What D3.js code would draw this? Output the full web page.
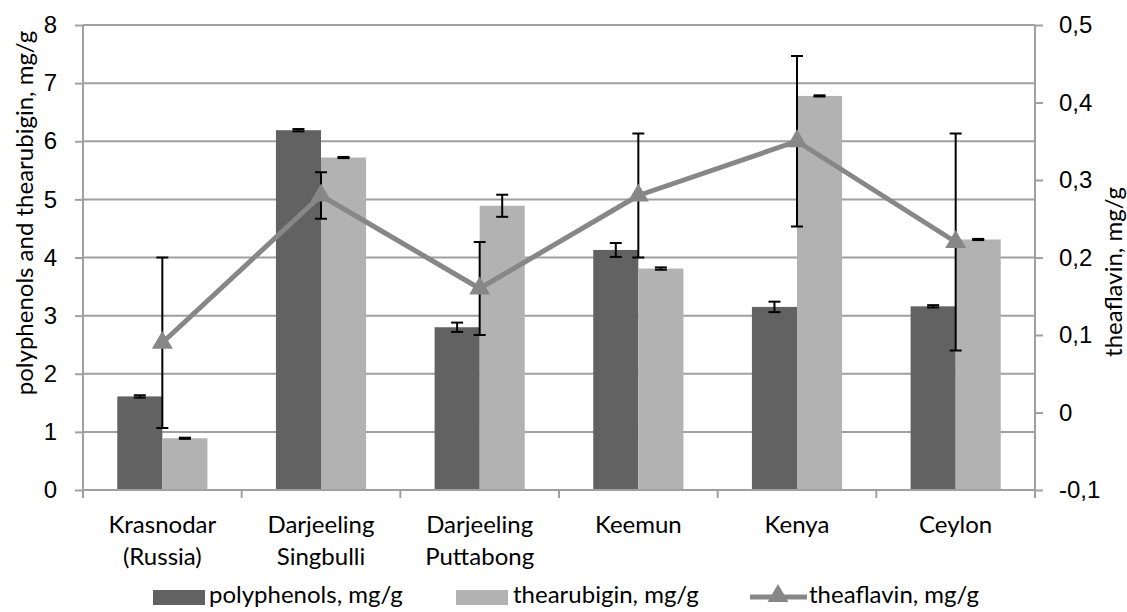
<!DOCTYPE html>
<html>
<head>
<meta charset="utf-8">
<script src="https://cdn.jsdelivr.net/npm/d3@7"></script>
<style>
  html, body { margin: 0; padding: 0; background: #fff; }
  svg { display: block; font-family: Lato, "Open Sans", sans-serif; }
</style>
</head>
<body>
<svg id="chart" width="1127" height="612"></svg>
<script>
// Tea samples
const categories = [
  ["Krasnodar", "(Russia)"],
  ["Darjeeling", "Singbulli"],
  ["Darjeeling", "Puttabong"],
  ["Keemun"],
  ["Kenya"],
  ["Ceylon"]
];
const polyphenols    = [1.61, 6.19, 2.80, 4.13, 3.15, 3.16];
const polyphenolsErr = [0.02, 0.02, 0.08, 0.12, 0.09, 0.02];
const thearubigin    = [0.89, 5.72, 4.89, 3.81, 6.78, 4.31];
const thearubiginErr = [0.01, 0.01, 0.19, 0.02, 0.01, 0.01];
const theaflavin     = [0.09, 0.28, 0.16, 0.28, 0.35, 0.22];
const theaflavinErr  = [0.11, 0.03, 0.06, 0.08, 0.11, 0.14];
const leftTicks  = [0, 1, 2, 3, 4, 5, 6, 7, 8];
const rightTicks = [-0.1, 0, 0.1, 0.2, 0.3, 0.4, 0.5];
const seriesNames = ["polyphenols, mg/g", "thearubigin, mg/g", "theaflavin, mg/g"];

const svg = d3.select("#chart");
const m = { left: 83, right: 1035, top: 25, bottom: 490 };
const C1 = "#626262", C2 = "#b2b2b2", CL = "#878787", GRID = "#a0a0a0";
const FS = 24;

const x = d3.scaleBand().domain(d3.range(categories.length)).range([m.left, m.right]);
const inner = d3.scaleBand().domain([0, 1]).range([0, x.bandwidth()]).paddingInner(0).paddingOuter(0.76);
const yL = d3.scaleLinear().domain([0, 8]).range([m.bottom, m.top]);
const yR = d3.scaleLinear().domain([-0.1, 0.5]).range([m.bottom, m.top]);

// gridlines + left axis
svg.append("g").selectAll("line").data(leftTicks.filter(d => d > 0)).join("line")
  .attr("x1", m.left).attr("x2", m.right)
  .attr("y1", d => yL(d)).attr("y2", d => yL(d))
  .attr("stroke", GRID).attr("stroke-width", 2);
const gL = svg.append("g").attr("transform", `translate(${m.left},0)`)
  .call(d3.axisLeft(yL).tickValues(leftTicks).tickSize(8).tickFormat(d3.format("d")));
gL.select(".domain").attr("stroke", GRID).attr("stroke-width", 2).attr("d", `M0,${m.top}V${m.bottom}`);
gL.selectAll(".tick line").attr("stroke", GRID).attr("stroke-width", 2);
gL.selectAll(".tick text").attr("font-size", FS).attr("fill", "#000").attr("x", -26);

// right axis
const gR = svg.append("g").attr("transform", `translate(${m.right},0)`)
  .call(d3.axisRight(yR).tickValues(rightTicks).tickSize(8)
    .tickFormat(d => Math.abs(d) < 1e-9 ? "0" : d.toFixed(1).replace(".", ",")));
gR.select(".domain").attr("stroke", GRID).attr("stroke-width", 2).attr("d", `M0,${m.top}V${m.bottom}`);
gR.selectAll(".tick line").attr("stroke", GRID).attr("stroke-width", 2);
gR.selectAll(".tick text").attr("font-size", FS).attr("fill", "#000").attr("x", 24).attr("text-anchor", "start");

// bars
const bars = svg.append("g");
bars.selectAll(".p").data(polyphenols).join("rect")
  .attr("x", (d, i) => x(i) + inner(0)).attr("width", inner.bandwidth())
  .attr("y", d => yL(d)).attr("height", d => yL(0) - yL(d)).attr("fill", C1);
bars.selectAll(".t").data(thearubigin).join("rect")
  .attr("x", (d, i) => x(i) + inner(1)).attr("width", inner.bandwidth())
  .attr("y", d => yL(d)).attr("height", d => yL(0) - yL(d)).attr("fill", C2);

// bottom axis
const gX = svg.append("g").attr("transform", `translate(0,${m.bottom})`);
gX.append("line").attr("x1", m.left).attr("x2", m.right).attr("stroke", GRID).attr("stroke-width", 2);
gX.selectAll(".tk").data(d3.range(categories.length + 1)).join("line")
  .attr("x1", i => m.left + i * x.step()).attr("x2", i => m.left + i * x.step())
  .attr("y1", 0).attr("y2", 8).attr("stroke", GRID).attr("stroke-width", 2);
const labels = gX.selectAll(".lab").data(categories).join("text")
  .attr("text-anchor", "middle").attr("font-size", FS).attr("fill", "#000");
labels.each(function (lines, i) {
  d3.select(this).selectAll("tspan").data(lines).join("tspan")
    .attr("x", x(i) + x.bandwidth() / 2)
    .attr("y", (d, j) => 43 + j * 32)
    .text(d => d);
});

// error bars
function errBars(vals, errs, cx, scale, cap) {
  const g = svg.append("g").attr("stroke", "#000").attr("stroke-width", 2);
  vals.forEach((v, i) => {
    const xc = cx(i), y1 = scale(v - errs[i]), y2 = scale(v + errs[i]);
    g.append("line").attr("x1", xc).attr("x2", xc).attr("y1", y1).attr("y2", y2);
    g.append("line").attr("x1", xc - cap).attr("x2", xc + cap).attr("y1", y1).attr("y2", y1);
    g.append("line").attr("x1", xc - cap).attr("x2", xc + cap).attr("y1", y2).attr("y2", y2);
  });
}
errBars(polyphenols, polyphenolsErr, i => x(i) + inner(0) + inner.bandwidth() / 2, yL, 6);
errBars(thearubigin, thearubiginErr, i => x(i) + inner(1) + inner.bandwidth() / 2, yL, 6);

// theaflavin line with triangle markers
const cx = i => x(i) + x.bandwidth() / 2;
svg.append("path").datum(theaflavin)
  .attr("d", d3.line().x((d, i) => cx(i)).y(d => yR(d)))
  .attr("fill", "none").attr("stroke", CL).attr("stroke-width", 5).attr("stroke-linejoin", "round");
errBars(theaflavin, theaflavinErr, cx, yR, 6);
const tri = d3.symbol().type(d3.symbolTriangle).size(190);
svg.append("g").selectAll("path").data(theaflavin).join("path")
  .attr("transform", (d, i) => `translate(${cx(i)},${yR(d)})`)
  .attr("d", tri).attr("fill", CL);

// axis titles
svg.append("text").attr("transform", "translate(33,213) rotate(-90)")
  .attr("text-anchor", "middle").attr("font-size", FS).text("polyphenols and thearubigin, mg/g");
svg.append("text").attr("transform", "translate(1122,272) rotate(-90)")
  .attr("text-anchor", "middle").attr("font-size", FS).text("theaflavin, mg/g");

// legend
const lg = svg.append("g").attr("font-size", FS);
lg.append("rect").attr("x", 153).attr("y", 590).attr("width", 52).attr("height", 15).attr("fill", C1);
lg.append("text").attr("x", 209).attr("y", 603).text(seriesNames[0]);
lg.append("rect").attr("x", 456).attr("y", 590).attr("width", 52).attr("height", 15).attr("fill", C2);
lg.append("text").attr("x", 513).attr("y", 603).text(seriesNames[1]);
lg.append("line").attr("x1", 750).attr("x2", 807).attr("y1", 597).attr("y2", 597)
  .attr("stroke", CL).attr("stroke-width", 5);
lg.append("path").attr("transform", "translate(778,596)").attr("d", tri).attr("fill", CL);
lg.append("text").attr("x", 809).attr("y", 603).text(seriesNames[2]);
</script>
</body>
</html>
